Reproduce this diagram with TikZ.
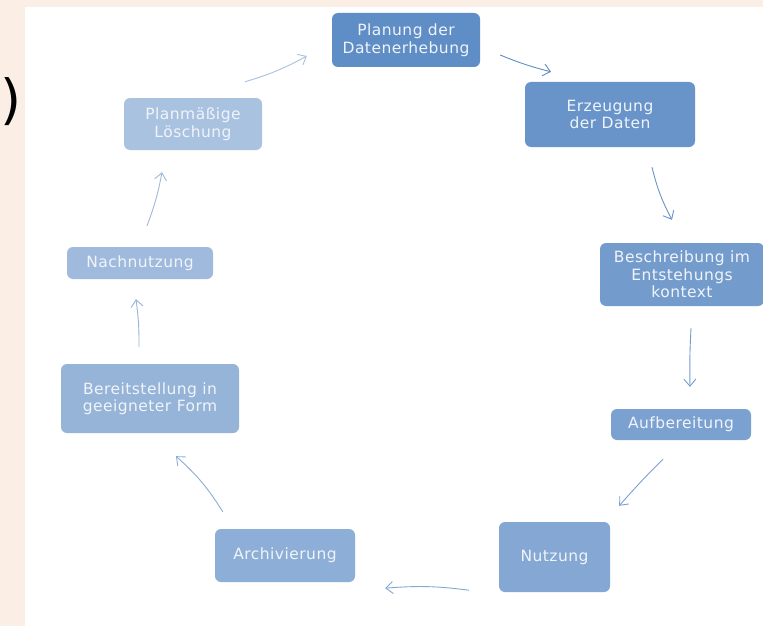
\documentclass[tikz,border=0pt]{standalone}
\usepackage{fontspec}
\setmainfont{DejaVu Sans}
\newfontfamily\boxfont{DejaVu Sans}[LetterSpace=3]
\usetikzlibrary{arrows.meta}

\definecolor{peach}{HTML}{FBEEE4}
\definecolor{boxtext}{HTML}{F0F4FA}
\definecolor{planblue}{HTML}{5F8DC6}
\definecolor{erzblue}{HTML}{6894C9}
\definecolor{beschrblue}{HTML}{739CCD}
\definecolor{aufbblue}{HTML}{7BA1D0}
\definecolor{nutzblue}{HTML}{84A8D3}
\definecolor{archblue}{HTML}{8DAED6}
\definecolor{bereitblue}{HTML}{96B4D8}
\definecolor{nachblue}{HTML}{9FBADC}
\definecolor{loeschblue}{HTML}{A9C2E0}

\begin{document}
\begin{tikzpicture}[x=1pt,y=-1pt,
		phase/.style={rectangle,rounded corners=6pt,inner sep=0pt,align=center,text=boxtext,font={\boxfont\fontsize{15.5}{17.5}\selectfont}},
		flow/.style={-{Straight Barb[length=7pt,width=12pt]},line width=0.9pt}]

			\useasboundingbox (0,0) rectangle (763,626);
			\fill[peach] (0,0) rectangle (763,626);
			\fill[white] (25,7) rectangle (763,626);

			\node[font={\fontsize{54}{54}\selectfont},inner sep=0pt,anchor=west] (paren) at (0,102) {)};

			\node[phase,fill=planblue,minimum width=148pt,minimum height=54pt] (plan) at (406,40) {Planung der\\Datenerhebung};
			\node[phase,fill=erzblue,minimum width=170pt,minimum height=65pt] (erz) at (610,114.5) {Erzeugung\\der Daten};
			\node[phase,fill=beschrblue,minimum width=164pt,minimum height=63pt] (beschr) at (682,274.5) {Beschreibung im\\Entstehungs\\kontext};
			\node[phase,fill=aufbblue,minimum width=140pt,minimum height=31pt] (aufb) at (681,424.5) {Aufbereitung};
			\node[phase,fill=nutzblue,minimum width=111pt,minimum height=70pt] (nutz) at (554.5,557) {Nutzung};
			\node[phase,fill=archblue,minimum width=140pt,minimum height=53pt] (arch) at (285,555.5) {Archivierung};
			\node[phase,fill=bereitblue,minimum width=178pt,minimum height=69pt] (bereit) at (150,398.5) {Bereitstellung in\\geeigneter Form};
			\node[phase,fill=nachblue,minimum width=146pt,minimum height=32pt] (nach) at (140,263) {Nachnutzung};
			\node[phase,fill=loeschblue,minimum width=138pt,minimum height=52pt] (loesch) at (193,124) {Planmäßige\\Löschung};

			\draw[flow,planblue] ([shift={(20,15)}]plan.east) to[bend right=4] ([shift={(-59,-10)}]erz.north);
			\draw[flow,erzblue] ([shift={(42,20)}]erz.south) to[bend right=7] ([shift={(-10,-23)}]beschr.north);
			\draw[flow,beschrblue] ([shift={(9,22)}]beschr.south) to[bend right=2] ([shift={(9,-22)}]aufb.north);
			\draw[flow,aufbblue] ([shift={(-18,19)}]aufb.south) to[bend right=2] ([shift={(9,-16)}]nutz.north east);
			\draw[flow,nutzblue] ([shift={(-30,-2)}]nutz.south west) to[bend right=6] ([shift={(30,6)}]arch.south east);
			\draw[flow,archblue] ([shift={(8,-17)}]arch.north west) to[bend right=8] ([shift={(26,23)}]bereit.south);
			\draw[flow,bereitblue] ([shift={(-11,-17)}]bereit.north) to[bend right=4] ([shift={(-4,20)}]nach.south);
			\draw[flow,nachblue] ([shift={(7,-21)}]nach.north) to[bend right=5] ([shift={(-31,22)}]loesch.south);
			\draw[flow,loeschblue] ([shift={(52,-16)}]loesch.north) to[bend right=6] ([shift={(-25,16)}]plan.west);

\end{tikzpicture}
\end{document}
